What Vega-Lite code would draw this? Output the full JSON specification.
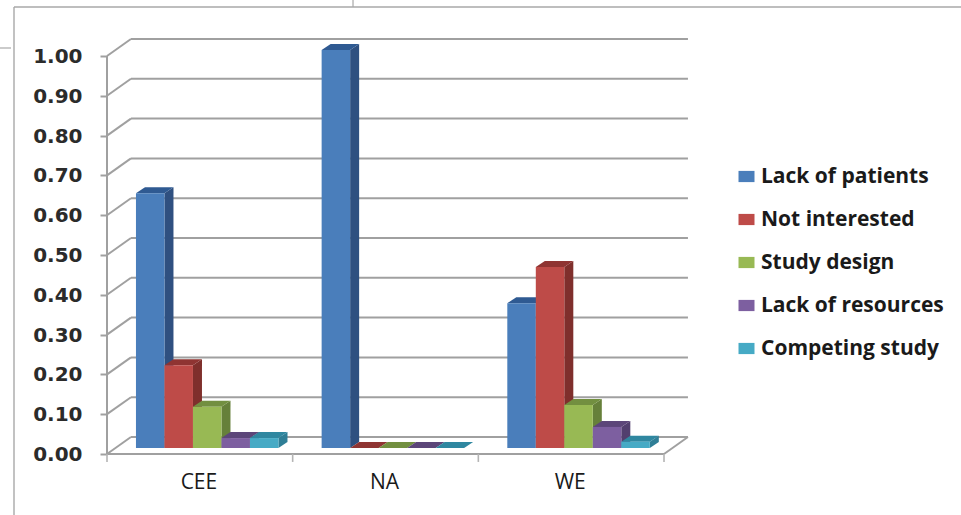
{
  "$schema": "https://vega.github.io/schema/vega-lite/v6.json",
  "width": 961,
  "height": 515,
  "padding": 0,
  "autosize": {"type": "none"},
  "background": "#ffffff",
  "view": {"stroke": null},
  "config": {"axis": {"grid": false}},
  "datasets": {
    "responses": [
      {"region": "CEE", "cause": "Lack of patients", "value": 0.64},
      {"region": "CEE", "cause": "Not interested", "value": 0.208},
      {"region": "CEE", "cause": "Study design", "value": 0.104},
      {"region": "CEE", "cause": "Lack of resources", "value": 0.025},
      {"region": "CEE", "cause": "Competing study", "value": 0.025},
      {"region": "NA", "cause": "Lack of patients", "value": 1.0},
      {"region": "NA", "cause": "Not interested", "value": 0},
      {"region": "NA", "cause": "Study design", "value": 0},
      {"region": "NA", "cause": "Lack of resources", "value": 0},
      {"region": "NA", "cause": "Competing study", "value": 0},
      {"region": "WE", "cause": "Lack of patients", "value": 0.364},
      {"region": "WE", "cause": "Not interested", "value": 0.455},
      {"region": "WE", "cause": "Study design", "value": 0.108},
      {"region": "WE", "cause": "Lack of resources", "value": 0.053},
      {"region": "WE", "cause": "Competing study", "value": 0.016}
    ],
    "ticks": [
      {"tick": 0}, {"tick": 0.1}, {"tick": 0.2}, {"tick": 0.3}, {"tick": 0.4}, {"tick": 0.5},
      {"tick": 0.6}, {"tick": 0.7}, {"tick": 0.8}, {"tick": 0.9}, {"tick": 1}
    ],
    "groups": [{"group": 0}, {"group": 1}, {"group": 2}, {"group": 3}],
    "regions": [{"region": "CEE", "group": 0}, {"region": "NA", "group": 1}, {"region": "WE", "group": 2}]
  },
  "layer": [
    {
      "description": "Back wall gridlines",
      "data": {"name": "ticks"},
      "transform": [
        {"calculate": "datum.tick + 0.0427", "as": "wallY"},
        {"calculate": "0.129", "as": "wallLeft"},
        {"calculate": "3.129", "as": "wallRight"}
      ],
      "mark": {"type": "rule", "color": "#a0a0a0", "strokeWidth": 2},
      "encoding": {
        "x": {"field": "wallLeft", "type": "quantitative", "axis": null, "scale": {"domain": [-0.5763, 4.5996], "nice": false, "zero": false}},
        "x2": {"field": "wallRight"},
        "y": {
          "field": "wallY", "type": "quantitative", "scale": {"domain": [-0.1533, 1.1407], "nice": false, "zero": false},
          "axis": {
            "title": null, "values": [0, 0.1, 0.2, 0.3, 0.4, 0.5, 0.6, 0.7, 0.8, 0.9, 1], "format": ".2f",
            "offset": -107, "domain": false, "tickSize": 7, "tickColor": "#a0a0a0", "tickWidth": 2,
            "labelPadding": 18, "labelOffset": 0.5, "labelFont": "DejaVu Sans", "labelFontSize": 20, "labelFontWeight": "bold", "labelColor": "#2b2b2b", "grid": false
          }
        }
      }
    },
    {
      "description": "Left wall diagonals from the front axis to the back wall",
      "data": {"name": "ticks"},
      "transform": [
        {"calculate": "datum.tick + 0.0427", "as": "wallY"},
        {"calculate": "0", "as": "frontX"},
        {"calculate": "0.129", "as": "backX"}
      ],
      "mark": {"type": "rule", "color": "#a0a0a0", "strokeWidth": 2},
      "encoding": {
        "x": {"field": "frontX", "type": "quantitative", "axis": null, "scale": {"domain": [-0.5763, 4.5996], "nice": false, "zero": false}},
        "x2": {"field": "backX"},
        "y": {"field": "tick", "type": "quantitative", "title": null, "scale": {"domain": [-0.1533, 1.1407], "nice": false, "zero": false}},
        "y2": {"field": "wallY"}
      }
    },
    {
      "description": "Front vertical axis line",
      "data": {"values": [{}]},
      "mark": {"type": "rule", "color": "#a0a0a0", "strokeWidth": 2},
      "encoding": {
        "x": {"datum": 0, "type": "quantitative", "axis": null, "scale": {"domain": [-0.5763, 4.5996], "nice": false, "zero": false}},
        "y": {"datum": 0, "type": "quantitative", "title": null, "scale": {"domain": [-0.1533, 1.1407], "nice": false, "zero": false}},
        "y2": {"datum": 1}
      }
    },
    {
      "description": "Front floor edge",
      "data": {"values": [{}]},
      "mark": {"type": "rule", "color": "#a0a0a0", "strokeWidth": 2},
      "encoding": {
        "x": {"datum": 0, "type": "quantitative", "axis": null, "scale": {"domain": [-0.5763, 4.5996], "nice": false, "zero": false}},
        "x2": {"datum": 3},
        "y": {"datum": 0, "type": "quantitative", "title": null, "scale": {"domain": [-0.1533, 1.1407], "nice": false, "zero": false}}
      }
    },
    {
      "description": "Right floor edge",
      "data": {"values": [{}]},
      "mark": {"type": "rule", "color": "#a0a0a0", "strokeWidth": 2},
      "encoding": {
        "x": {"datum": 3, "type": "quantitative", "axis": null, "scale": {"domain": [-0.5763, 4.5996], "nice": false, "zero": false}},
        "x2": {"datum": 3.129},
        "y": {"datum": 0, "type": "quantitative", "title": null, "scale": {"domain": [-0.1533, 1.1407], "nice": false, "zero": false}},
        "y2": {"datum": 0.0427}
      }
    },
    {
      "description": "Category separator ticks under the floor",
      "data": {"name": "groups"},
      "mark": {"type": "rule", "color": "#b4b4b4", "strokeWidth": 1.6},
      "encoding": {
        "x": {"field": "group", "type": "quantitative", "axis": null, "scale": {"domain": [-0.5763, 4.5996], "nice": false, "zero": false}},
        "y": {"datum": 0, "type": "quantitative", "title": null, "scale": {"domain": [-0.1533, 1.1407], "nice": false, "zero": false}},
        "y2": {"datum": -0.02}
      }
    },
    {
      "description": "Right-hand faces of the bars",
      "data": {"name": "responses"},
      "transform": [
        {"calculate": "indexof(['CEE','NA','WE'], datum.region)", "as": "group"},
        {"calculate": "indexof(['Lack of patients','Not interested','Study design','Lack of resources','Competing study'], datum.cause)", "as": "series"},
        {"calculate": "[0, 1]", "as": "depth"},
        {"flatten": ["depth"]},
        {"calculate": "datum.group + 0.156 + (datum.series + 1) * 0.1535 + datum.depth * 0.0485", "as": "sideX"},
        {"calculate": "0.015 + datum.depth * 0.015", "as": "sideBase"},
        {"calculate": "datum.value + datum.sideBase", "as": "sideTop"},
        {"calculate": "datum.region + datum.cause", "as": "bar"}
      ],
      "mark": {"type": "area", "orient": "vertical", "interpolate": "linear"},
      "encoding": {
        "x": {"field": "sideX", "type": "quantitative", "axis": null, "scale": {"domain": [-0.5763, 4.5996], "nice": false, "zero": false}},
        "y": {"field": "sideTop", "type": "quantitative", "title": null, "stack": null, "scale": {"domain": [-0.1533, 1.1407], "nice": false, "zero": false}},
        "y2": {"field": "sideBase"},
        "detail": {"field": "bar"},
        "fill": {
          "field": "cause", "type": "nominal", "legend": null,
          "scale": {
            "domain": ["Lack of patients", "Not interested", "Study design", "Lack of resources", "Competing study"],
            "range": ["#2f5080", "#7f2f2c", "#66803a", "#523f6e", "#2f7e96"]
          }
        }
      }
    },
    {
      "description": "Top faces of the bars",
      "data": {"name": "responses"},
      "transform": [
        {"calculate": "indexof(['CEE','NA','WE'], datum.region)", "as": "group"},
        {"calculate": "indexof(['Lack of patients','Not interested','Study design','Lack of resources','Competing study'], datum.cause)", "as": "series"},
        {"calculate": "[0, 1]", "as": "depth"},
        {"flatten": ["depth"]},
        {"calculate": "datum.group + 0.156 + datum.series * 0.1535 + datum.depth * 0.0485", "as": "topLeft"},
        {"calculate": "datum.topLeft + 0.1535", "as": "topRight"},
        {"calculate": "datum.value + 0.015 + datum.depth * 0.015", "as": "topY"},
        {"calculate": "datum.region + datum.cause", "as": "bar"}
      ],
      "mark": {"type": "area", "orient": "horizontal", "interpolate": "linear"},
      "encoding": {
        "y": {"field": "topY", "type": "quantitative", "title": null, "scale": {"domain": [-0.1533, 1.1407], "nice": false, "zero": false}},
        "x": {"field": "topLeft", "type": "quantitative", "axis": null, "stack": null, "scale": {"domain": [-0.5763, 4.5996], "nice": false, "zero": false}},
        "x2": {"field": "topRight"},
        "detail": {"field": "bar"},
        "fill": {
          "field": "cause", "type": "nominal", "legend": null,
          "scale": {
            "domain": ["Lack of patients", "Not interested", "Study design", "Lack of resources", "Competing study"],
            "range": ["#2f5a92", "#8f3432", "#728f40", "#5c4679", "#2f87a0"]
          }
        }
      }
    },
    {
      "description": "Front faces of the bars, which also supply the legend",
      "data": {"name": "responses"},
      "transform": [
        {"calculate": "indexof(['CEE','NA','WE'], datum.region)", "as": "group"},
        {"calculate": "indexof(['Lack of patients','Not interested','Study design','Lack of resources','Competing study'], datum.cause)", "as": "series"},
        {"calculate": "datum.group + 0.156 + datum.series * 0.1535", "as": "frontLeft"},
        {"calculate": "datum.frontLeft + 0.1535", "as": "frontRight"},
        {"calculate": "0.015", "as": "frontBase"},
        {"calculate": "datum.value + 0.015", "as": "frontTop"}
      ],
      "mark": {"type": "rect"},
      "encoding": {
        "x": {"field": "frontLeft", "type": "quantitative", "axis": null, "scale": {"domain": [-0.5763, 4.5996], "nice": false, "zero": false}},
        "x2": {"field": "frontRight"},
        "y": {"field": "frontBase", "type": "quantitative", "title": null, "scale": {"domain": [-0.1533, 1.1407], "nice": false, "zero": false}},
        "y2": {"field": "frontTop"},
        "fill": {
          "field": "cause", "type": "nominal",
          "scale": {
            "domain": ["Lack of patients", "Not interested", "Study design", "Lack of resources", "Competing study"],
            "range": ["#4a7ebb", "#be4b48", "#98b954", "#7d5fa0", "#46aac5"]
          },
          "legend": {
            "title": null, "orient": "none", "legendX": 736, "legendY": 166,
            "symbolType": "M-1,-0.7H1V0.7H-1Z", "symbolSize": 256, "symbolStrokeWidth": 0,
            "labelFont": "Open Sans", "labelFontSize": 21, "labelFontWeight": "bold", "labelColor": "#1a1a1a",
            "labelOffset": 4, "rowPadding": 21, "labelLimit": 300
          }
        }
      }
    },
    {
      "description": "Region names below the floor",
      "data": {"name": "regions"},
      "transform": [
        {"calculate": "datum.group + 0.495", "as": "center"},
        {"calculate": "-0.0729", "as": "labelY"}
      ],
      "mark": {"type": "text", "font": "Open Sans", "fontSize": 21, "color": "#1a1a1a", "align": "center", "baseline": "middle"},
      "encoding": {
        "x": {"field": "center", "type": "quantitative", "axis": null, "scale": {"domain": [-0.5763, 4.5996], "nice": false, "zero": false}},
        "y": {"field": "labelY", "type": "quantitative", "title": null, "scale": {"domain": [-0.1533, 1.1407], "nice": false, "zero": false}},
        "text": {"field": "region"}
      }
    },
    {
      "description": "Frame: top edge",
      "data": {"values": [{}]},
      "mark": {"type": "rule", "color": "#a8a8a8", "strokeWidth": 1.4},
      "encoding": {
        "x": {"datum": -0.5009, "type": "quantitative", "axis": null, "scale": {"domain": [-0.5763, 4.5996], "nice": false, "zero": false}},
        "x2": {"datum": 4.5996},
        "y": {"datum": 1.1231, "type": "quantitative", "title": null, "scale": {"domain": [-0.1533, 1.1407], "nice": false, "zero": false}}
      }
    },
    {
      "description": "Frame: left edge",
      "data": {"values": [{}]},
      "mark": {"type": "rule", "color": "#a8a8a8", "strokeWidth": 1.4},
      "encoding": {
        "x": {"datum": -0.5009, "type": "quantitative", "axis": null, "scale": {"domain": [-0.5763, 4.5996], "nice": false, "zero": false}},
        "y": {"datum": 1.1231, "type": "quantitative", "title": null, "scale": {"domain": [-0.1533, 1.1407], "nice": false, "zero": false}},
        "y2": {"datum": -0.1533}
      }
    },
    {
      "description": "Frame: short stub left of the edge",
      "data": {"values": [{}]},
      "mark": {"type": "rule", "color": "#a8a8a8", "strokeWidth": 1.2},
      "encoding": {
        "x": {"datum": -0.5763, "type": "quantitative", "axis": null, "scale": {"domain": [-0.5763, 4.5996], "nice": false, "zero": false}},
        "x2": {"datum": -0.517},
        "y": {"datum": 1.0201, "type": "quantitative", "title": null, "scale": {"domain": [-0.1533, 1.1407], "nice": false, "zero": false}}
      }
    },
    {
      "description": "Frame: short stub above the edge",
      "data": {"values": [{}]},
      "mark": {"type": "rule", "color": "#a8a8a8", "strokeWidth": 1.2},
      "encoding": {
        "x": {"datum": 1.325, "type": "quantitative", "axis": null, "scale": {"domain": [-0.5763, 4.5996], "nice": false, "zero": false}},
        "y": {"datum": 1.1231, "type": "quantitative", "title": null, "scale": {"domain": [-0.1533, 1.1407], "nice": false, "zero": false}},
        "y2": {"datum": 1.1407}
      }
    }
  ],
  "resolve": {"scale": {"fill": "independent"}}
}
